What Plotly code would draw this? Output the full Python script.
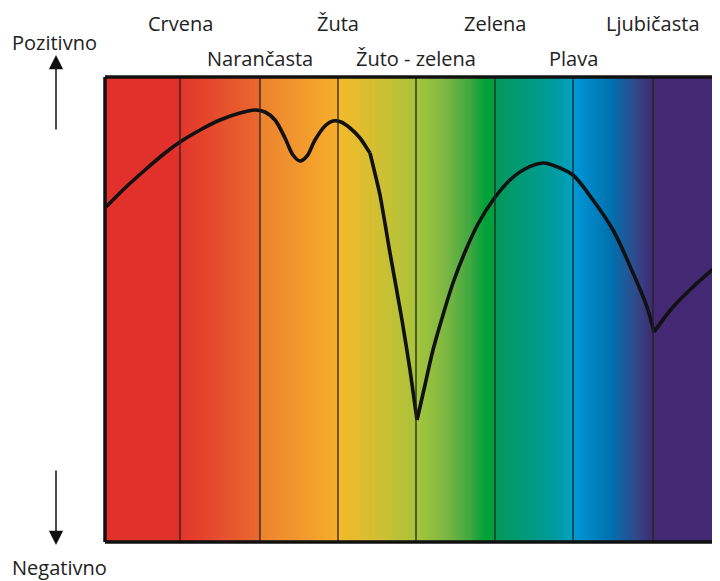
import numpy as np
import plotly.graph_objects as go

# ---- data ----
band_edges = [75, 155, 233, 311, 390, 468, 548]          # band boundaries (x units)
band_labels = ["Crvena", "Narančasta", "Žuta", "Žuto - zelena", "Zelena", "Plava", "Ljubičasta"]
label_row = [0, 1, 0, 1, 0, 1, 0]                          # 0 = upper row, 1 = lower row

arch1_x = [1, 20, 40, 60, 75, 95, 115, 135, 150, 160, 170, 180, 188, 195, 202, 210, 220, 228, 236, 245, 255, 263, 265]
arch1_y = [335, 354, 372, 389, 400, 412, 422, 429, 432, 430, 422, 404, 387, 381, 386, 402, 416, 421, 420, 414, 404, 392, 389]
drop_x = [265, 275, 285, 297, 305, 312]
drop_y = [389, 347, 289, 222, 172, 122]
arch2_x = [312, 320, 328, 338, 348, 360, 373, 388, 405, 420, 438, 455, 468, 488, 508, 528, 542, 549]
arch2_y = [122, 157, 192, 227, 259, 290, 318, 342, 362, 373, 379, 374, 367, 342, 312, 269, 235, 210]
arch3_x = [549, 568, 588, 615]
arch3_y = [210, 235, 255, 279]

X_MAX = 615
Y_MAX = 465

# ---- figure geometry (page has an 8px body margin, container 704px wide) ----
OFF = 8
W, H = 720 - 2 * OFF, 581 - OFF
L = 105 - OFF
T = 77 - OFF
B = H - (542 - OFF)
X_VIS = W - L   # visible x units (1 unit per pixel)


def px(xp):
    return (xp - OFF - L) / (W - L)


def py(yp):
    return (H - B - (yp - OFF)) / (H - T - B)


stops = [
    (0, "#E2302B"), (75, "#E2302B"), (75, "#E3352B"), (155, "#E9692F"),
    (155, "#EC8230"), (233, "#F7AE2B"), (233, "#F4BA2A"), (270, "#D3BF32"), (311, "#A8C43A"),
    (311, "#A5C63C"), (340, "#7DB742"), (365, "#3FA640"), (380, "#00A13A"), (390, "#00A13A"),
    (390, "#05985A"), (420, "#009A7A"), (450, "#009BA0"), (468, "#00A3C2"),
    (468, "#0098D6"), (505, "#0071B0"), (530, "#2F4A8A"), (548, "#41286F"),
    (548, "#432874"), (615, "#432874"),
]
colorscale = [[s / X_MAX, c] for s, c in stops]

gx = np.arange(0, X_MAX + 1)
fig = go.Figure()
fig.add_trace(go.Heatmap(
    x=gx, y=[0, Y_MAX], z=[gx, gx], colorscale=colorscale, zmin=0, zmax=X_MAX,
    showscale=False, hoverinfo="skip"))

line_style = dict(color="#111111", width=3.6)
for xs, ys, sm in [(arch1_x, arch1_y, 0.9), (drop_x, drop_y, 0.5),
                   (arch2_x, arch2_y, 1.0), (arch3_x, arch3_y, 1.0)]:
    fig.add_trace(go.Scatter(x=xs, y=ys, mode="lines",
                             line=dict(**line_style, shape="spline", smoothing=sm),
                             hoverinfo="skip"))

shapes = []
for e in band_edges:
    shapes.append(dict(type="line", xref="x", yref="y", x0=e, x1=e, y0=0, y1=Y_MAX,
                       line=dict(color="#222222", width=1.3), layer="above"))
# frame (left, top, bottom)
frame = dict(color="#111111", width=3.5)
shapes.append(dict(type="line", xref="paper", yref="paper", x0=0, x1=0, y0=0, y1=1, line=frame))
shapes.append(dict(type="line", xref="paper", yref="paper", x0=0, x1=1, y0=1, y1=1, line=frame))
shapes.append(dict(type="line", xref="paper", yref="paper", x0=0, x1=1, y0=0, y1=0, line=frame))

font = dict(family="Open Sans", size=20, color="#222222")
annotations = []
for e, lab, row in zip(band_edges, band_labels, label_row):
    annotations.append(dict(x=e, xref="x", y=py(24 if row == 0 else 58), yref="paper",
                            text=lab, showarrow=False, font=font,
                            xanchor="center", yanchor="middle"))

annotations.append(dict(x=px(10), y=py(42), xref="paper", yref="paper", text="Pozitivno",
                        showarrow=False, font=font, xanchor="left", yanchor="middle"))
annotations.append(dict(x=px(10), y=py(567), xref="paper", yref="paper", text="Negativno",
                        showarrow=False, font=font, xanchor="left", yanchor="middle"))
# arrows
annotations.append(dict(x=px(56), y=py(55), xref="paper", yref="paper", ax=0, ay=76,
                        text="", showarrow=True, arrowhead=2, arrowsize=1.9, arrowwidth=1.5,
                        arrowcolor="#111111"))
annotations.append(dict(x=px(56), y=py(545), xref="paper", yref="paper", ax=0, ay=-76,
                        text="", showarrow=True, arrowhead=2, arrowsize=1.9, arrowwidth=1.5,
                        arrowcolor="#111111"))

fig.update_layout(
    width=W, height=H,
    margin=dict(l=L, r=0, t=T, b=B),
    paper_bgcolor="white", plot_bgcolor="white",
    showlegend=False,
    xaxis=dict(range=[0, X_VIS], visible=False, fixedrange=True),
    yaxis=dict(range=[0, Y_MAX], visible=False, fixedrange=True),
    shapes=shapes, annotations=annotations,
)

fig.write_html("out.html")
